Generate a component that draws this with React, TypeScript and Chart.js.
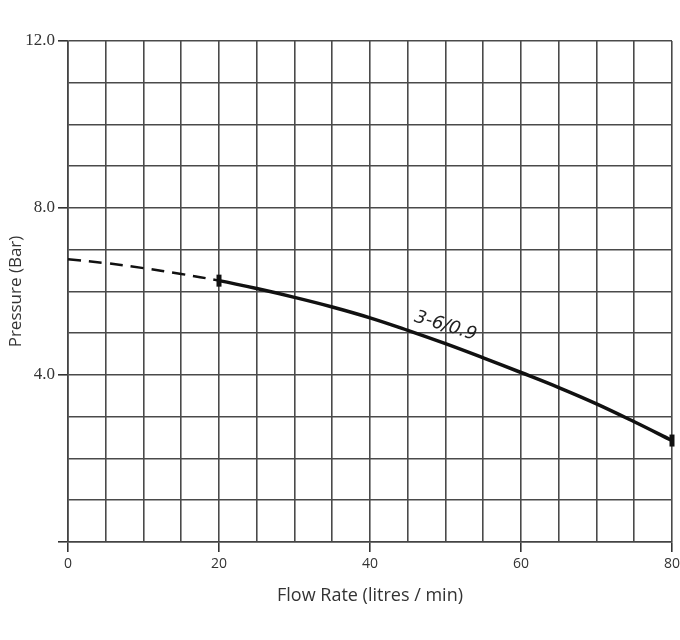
import React, { useEffect, useRef } from "react";
import { Chart, registerables } from "chart.js";

Chart.register(...registerables);

const flowRates = [0, 5, 10, 15, 20, 25, 30, 35, 40, 45, 50, 55, 60, 65, 70, 75, 80];
const pressures = [6.77, 6.68, 6.56, 6.42, 6.26, 6.07, 5.86, 5.63, 5.37, 5.07, 4.75, 4.41, 4.06, 3.7, 3.31, 2.88, 2.43];
const markerFlows = [20, 80];
const dashedUntil = 20;
const curveLabel = "3-6/0.9";
const curveLabelAt = { x: 50.0, y: 5.17 };
const xTitle = "Flow Rate (litres / min)";
const yTitle = "Pressure (Bar)";

export default function App() {
  const ref = useRef<HTMLCanvasElement | null>(null);

  useEffect(() => {
    if (!ref.current) return;
    const labelPlugin = {
      id: "curveLabel",
      afterDatasetsDraw(chart: any) {
        const { ctx, scales } = chart;
        const px = scales.x.getPixelForValue(curveLabelAt.x);
        const py = scales.y.getPixelForValue(curveLabelAt.y);
        ctx.save();
        ctx.translate(px, py);
        ctx.rotate((17 * Math.PI) / 180);
        ctx.font = "italic 18px 'DejaVu Sans'";
        ctx.fillStyle = "#222";
        ctx.textAlign = "center";
        ctx.textBaseline = "middle";
        ctx.fillText(curveLabel, 0, 0);
        ctx.restore();
      },
    };

    const chart = new Chart(ref.current, {
      type: "line",
      data: {
        datasets: [
          {
            data: flowRates.map((x, i) => ({ x, y: pressures[i] })),
            borderColor: "#111",
            borderWidth: 3.5,
            tension: 0.4,
            fill: false,
            clip: 8,
            pointStyle: "line",
            pointRotation: 90,
            pointRadius: (c: any) => (markerFlows.includes(flowRates[c.dataIndex]) ? 6 : 0),
            pointHoverRadius: 0,
            pointBorderWidth: 5,
            pointBorderColor: "#111",
            pointBackgroundColor: "#111",
            segment: {
              borderDash: (c: any) => (c.p0.parsed.x < dashedUntil ? [13, 8] : undefined),
              borderWidth: (c: any) => (c.p0.parsed.x < dashedUntil ? 2.5 : 3.5),
            },
          } as any,
        ],
      },
      plugins: [labelPlugin],
      options: {
        animation: false,
        responsive: false,
        maintainAspectRatio: false,
        layout: { autoPadding: false, padding: { top: 41, right: 8, left: 0, bottom: 0 } },
        plugins: { legend: { display: false }, tooltip: { enabled: false } },
        scales: {
          x: {
            type: "linear",
            min: 0,
            max: 80,
            afterFit: (s: any) => {
              s.height = 98;
              s.paddingRight = 0;
              s.paddingLeft = 0;
            },
            ticks: {
              stepSize: 5,
              autoSkip: false,
              maxRotation: 0,
              padding: 4,
              color: "#333",
              font: { family: "'Open Sans'", size: 14 },
              callback: (v: any) => (Number(v) % 20 === 0 ? String(v) : ""),
            },
            grid: {
              color: "#4a4a4a",
              lineWidth: 1.6,
              tickLength: 10,
              tickColor: (c: any) => (c.tick && c.tick.value % 20 === 0 ? "#333" : "rgba(0,0,0,0)"),
              tickWidth: 1.6,
            },
            border: { color: "#444", width: 1.6 },
            title: {
              display: true,
              text: xTitle,
              color: "#333",
              font: { family: "'Open Sans'", size: 18 },
              padding: { top: 0, bottom: 33 },
            },
          },
          y: {
            type: "linear",
            min: 0,
            max: 12,
            afterFit: (s: any) => {
              s.width = 68;
            },
            ticks: {
              stepSize: 1,
              autoSkip: false,
              padding: 3,
              color: "#333",
              font: { family: "'Liberation Serif'", size: 17 },
              callback: (v: any) => (Number(v) % 4 === 0 && Number(v) > 0 ? Number(v).toFixed(1) : ""),
            },
            grid: {
              color: "#4a4a4a",
              lineWidth: 1.6,
              tickLength: 10,
              tickColor: (c: any) => (c.tick && c.tick.value % 4 === 0 ? "#333" : "rgba(0,0,0,0)"),
              tickWidth: 1.6,
            },
            border: { color: "#444", width: 1.6 },
            title: {
              display: true,
              text: yTitle,
              color: "#333",
              font: { family: "'Open Sans'", size: 17 },
              padding: { top: 6, bottom: 0 },
            },
          },
        },
      } as any,
    });
    return () => chart.destroy();
  }, []);

  return (
    <div style={{ position: "fixed", left: 0, top: 0, width: 680, height: 640, background: "#fff" }}>
      <canvas ref={ref} width={680} height={640} style={{ display: "block" }} />
    </div>
  );
}
